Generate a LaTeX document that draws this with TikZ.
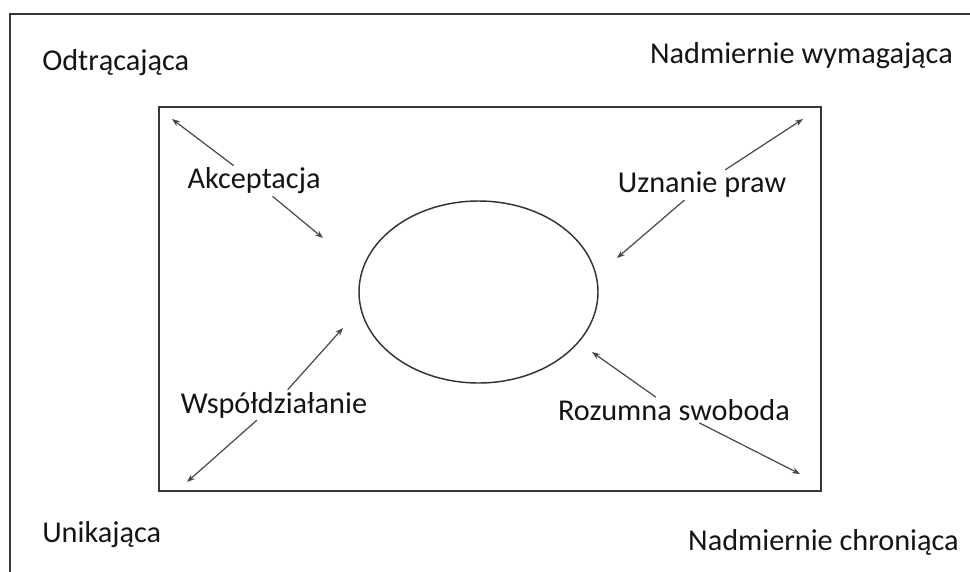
\documentclass[tikz,border=0pt]{standalone}
\usepackage{fontspec}
\setmainfont{Carlito}
\usetikzlibrary{arrows.meta}
\begin{document}
\begin{tikzpicture}[x=0.75pt,y=-0.75pt,
  frame/.style={draw=black!78, line width=1.5pt},
  ring/.style={draw=black!80, line width=1.1pt},
  arr/.style={draw=black!72, line width=0.9pt, -{Stealth[length=6pt,width=4.5pt]}},
  lbl/.style={font=\fontsize{22.7}{26}\selectfont, text=black!92, inner sep=1.5pt},
  corner/.style={font=\fontsize{22.7}{26}\selectfont, text=black!92, inner sep=0pt}
]
\useasboundingbox (0,0) rectangle (970,571);
\clip (0,0) rectangle (970,571);

% outer frame (runs past the right and bottom edges)
\draw[frame] (9.5,14) rectangle (1000,600);
% inner frame
\draw[frame] (159,107) rectangle (821,491);
% central ellipse
\draw[ring] (478.5,292) ellipse [x radius=119.5, y radius=91];

% corner labels
\node[corner, anchor=base west] (odt) at (42,70) {Odtrącająca};
\node[corner, anchor=base east] (wym) at (953,63) {Nadmiernie wymagająca};
\node[corner, anchor=base west] (uni) at (42,542) {Unikająca};
\node[corner, anchor=base east] (chr) at (959,550) {Nadmiernie chroniąca};

% arrow ends
\coordinate (akcA) at (172,119);
\coordinate (akcB) at (323,238);
\coordinate (uznA) at (803,119);
\coordinate (uznB) at (617,258);
\coordinate (wspA) at (343,328);
\coordinate (wspB) at (187,482);
\coordinate (rozA) at (592,352);
\coordinate (rozB) at (800,474);

% inner labels
\node[lbl] (akc) at (254,181) {Akceptacja};
\node[lbl] (uzn) at (702,185) {Uznanie praw};
\node[lbl] (wsp) at (274,405) {Współdziałanie};
\node[lbl] (roz) at (674,410) {Rozumna swoboda};

% connectors
\draw[arr] (akc) -- (akcA);
\draw[arr] (akc) -- (akcB);
\draw[arr] (uzn) -- (uznA);
\draw[arr] (uzn) -- (uznB);
\draw[arr] (wsp) -- (wspA);
\draw[arr] (wsp) -- (wspB);
\draw[arr] (roz) -- (rozA);
\draw[arr] (roz) -- (rozB);
\end{tikzpicture}
\end{document}
